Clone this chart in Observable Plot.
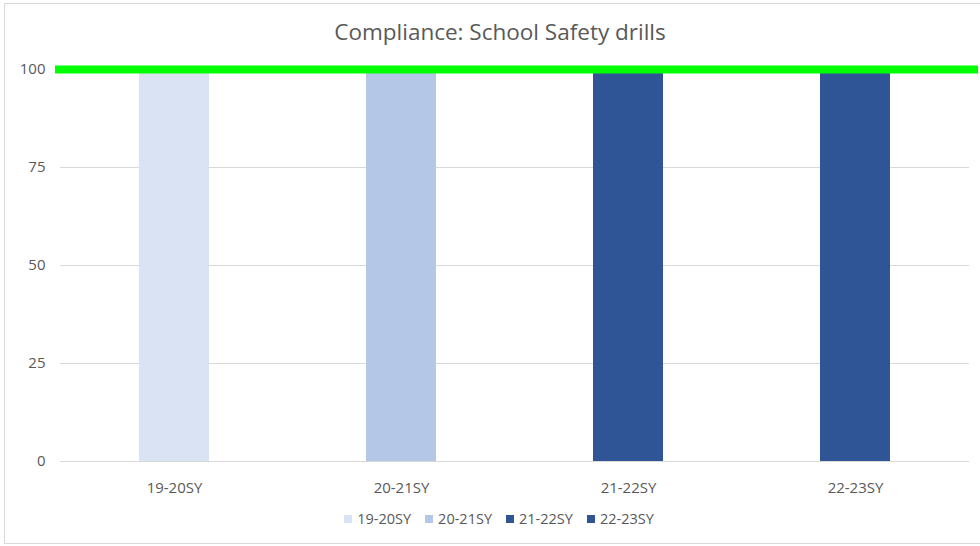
<!DOCTYPE html>
<html>
<head>
<meta charset="utf-8">
<script src="https://cdn.jsdelivr.net/npm/d3@7"></script>
<script src="https://cdn.jsdelivr.net/npm/@observablehq/plot@0.6"></script>
<style>
  html, body { margin: 0; padding: 0; background: #fff; overflow: hidden; }
  #wrap { position: relative; width: 980px; height: 546px; overflow: hidden; font-family: "Open Sans", sans-serif; color: #595959; }
  #frame { position: absolute; left: 4px; top: 3px; width: 1000px; height: 541px; border: 1px solid #d9d9d9; box-sizing: border-box; }
  #title { position: absolute; left: 0; top: 16px; width: 1000px; text-align: center; font-size: 22.5px; color: #595959; }
  #chart { position: absolute; left: 0; top: 0; }
  #legend { position: absolute; left: 0; top: 509px; width: 998px; display: flex; justify-content: center; gap: 14px; font-size: 14.5px; color: #595959; }
  #legend .item { display: flex; align-items: center; gap: 5px; }
  #legend .sw { width: 8px; height: 8px; display: inline-block; }
</style>
</head>
<body>
<div id="wrap">
  <div id="frame"></div>
  <div id="chart"></div>
  <div id="title">Compliance: School Safety drills</div>
  <div id="legend"></div>
</div>
<script>
const categories = ["19-20SY", "20-21SY", "21-22SY", "22-23SY"];
const values = [100, 100, 100, 100];
const palette = ["#dae3f3", "#b4c7e7", "#2f5597", "#2f5597"];
const yTicks = [0, 25, 50, 75, 100];
const target = 100;

const data = categories.map((c, i) => ({ category: c, value: values[i] }));

const chart = Plot.plot({
  width: 980,
  height: 500,
  marginTop: 69,
  marginBottom: 39,
  marginLeft: 60,
  marginRight: 11,
  style: { fontFamily: "Open Sans, sans-serif", fontSize: "15px", color: "#595959", background: "transparent", overflow: "visible" },
  x: { domain: categories, paddingInner: 0.69, paddingOuter: 0.345, label: null, tickSize: 0, tickPadding: 22 },
  y: { domain: [0, 100], ticks: yTicks, label: null, tickSize: 0, tickPadding: 15 },
  color: { domain: categories, range: palette },
  marks: [
    Plot.ruleY(yTicks.filter(t => t !== target), { stroke: "#d9d9d9", strokeWidth: 1 }),
    Plot.barY(data, { x: "category", y: "value", fill: "category" }),
    Plot.ruleY([target], { stroke: "#00ff00", strokeWidth: 8, insetLeft: -5, insetRight: -9 }),
    Plot.axisY({ ticks: yTicks, tickSize: 0, tickPadding: 15, label: null, fill: "#595959" }),
    Plot.axisX({ tickSize: 0, tickPadding: 21, label: null, fill: "#595959" })
  ]
});
document.getElementById("chart").appendChild(chart);

const legend = document.getElementById("legend");
categories.forEach((c, i) => {
  const item = document.createElement("div");
  item.className = "item";
  const sw = document.createElement("span");
  sw.className = "sw";
  sw.style.background = palette[i];
  const label = document.createElement("span");
  label.textContent = c;
  item.appendChild(sw);
  item.appendChild(label);
  legend.appendChild(item);
});
</script>
</body>
</html>
